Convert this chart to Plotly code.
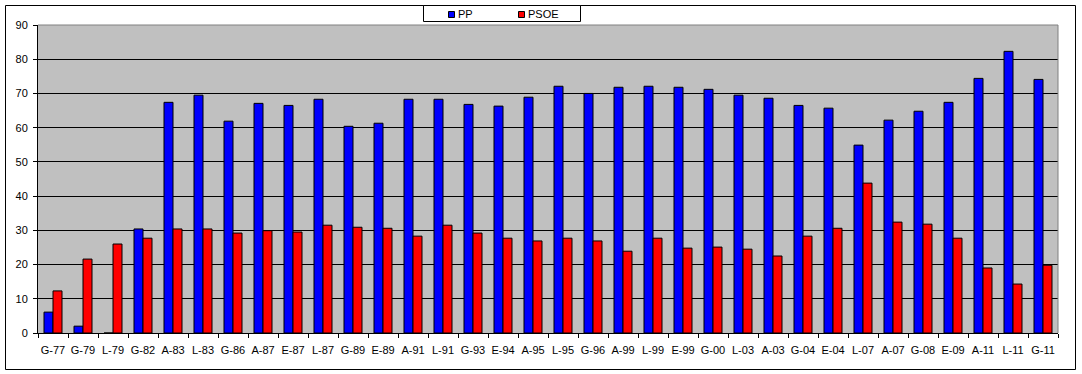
import plotly.graph_objects as go

categories = ["G-77", "G-79", "L-79", "G-82", "A-83", "L-83", "G-86", "A-87", "E-87", "L-87",
              "G-89", "E-89", "A-91", "L-91", "G-93", "E-94", "A-95", "L-95", "G-96", "A-99",
              "L-99", "E-99", "G-00", "L-03", "A-03", "G-04", "E-04", "L-07", "A-07", "G-08",
              "E-09", "A-11", "L-11", "G-11"]
pp = [6.1, 2.0, 0, 30.4, 67.4, 69.5, 61.9, 67.1, 66.5, 68.3,
      60.4, 61.3, 68.3, 68.3, 66.8, 66.3, 68.9, 72.1, 70.0, 71.8,
      72.1, 71.8, 71.2, 69.5, 68.6, 66.5, 65.7, 54.9, 62.2, 64.8,
      67.4, 74.4, 82.3, 74.1]
psoe = [12.3, 21.6, 26.0, 27.7, 30.4, 30.4, 29.2, 29.9, 29.5, 31.5,
        30.9, 30.6, 28.3, 31.5, 29.2, 27.7, 26.9, 27.7, 26.9, 23.9,
        27.7, 24.8, 25.1, 24.5, 22.5, 28.3, 30.6, 43.8, 32.4, 31.8,
        27.7, 19.0, 14.3, 19.8]
series_names = ["PP", "PSOE"]
series_colors = ["#0000FF", "#FF0000"]
y_ticks = [0, 10, 20, 30, 40, 50, 60, 70, 80, 90]

W, H = 1082, 374
L, R, T, B = 38, 24, 25, 41
pw, ph = W - L - R, H - T - B

def px_x(p):
    return (p - L) / pw

def px_y(p):
    return (H - B - p) / ph

FONT = "Liberation Sans, Arial, sans-serif"

fig = go.Figure()
for name, vals, col in zip(series_names, [pp, psoe], series_colors):
    fig.add_trace(go.Bar(x=categories, y=vals, name=name, showlegend=False, hoverinfo="skip",
                         marker=dict(color=col, line=dict(color="black", width=1))))

shapes = [
    # outer frame
    dict(type="rect", xref="paper", yref="paper",
         x0=px_x(5.5), x1=px_x(1075.5), y0=px_y(369.5), y1=px_y(5.5),
         line=dict(color="black", width=1), layer="below"),
    # plot area gray top/right border
    dict(type="line", xref="paper", yref="paper", x0=0, x1=1, y0=1, y1=1,
         line=dict(color="#808080", width=1), layer="above"),
    dict(type="line", xref="paper", yref="paper", x0=1, x1=1, y0=0, y1=1,
         line=dict(color="#808080", width=1), layer="above"),
    # legend box
    dict(type="rect", xref="paper", yref="paper",
         x0=px_x(423.5), x1=px_x(580.5), y0=px_y(21.5), y1=px_y(5.5),
         line=dict(color="black", width=1), fillcolor="white", layer="above"),
]
annotations = []
legend_marker_x = [448.5, 518.5]
for name, col, mx in zip(series_names, series_colors, legend_marker_x):
    shapes.append(dict(type="rect", xref="paper", yref="paper",
                       x0=px_x(mx), x1=px_x(mx + 6), y0=px_y(17.5), y1=px_y(11.5),
                       line=dict(color="black", width=1), fillcolor=col, layer="above"))
    annotations.append(dict(xref="paper", yref="paper", x=px_x(mx + 7.5), y=px_y(14),
                            xanchor="left", yanchor="middle", text=name, showarrow=False,
                            font=dict(family=FONT, size=11, color="black")))

fig.update_layout(
    width=W, height=H,
    margin=dict(l=L, r=R, t=T, b=B, autoexpand=False),
    paper_bgcolor="white",
    plot_bgcolor="#C0C0C0",
    barmode="group", bargap=0.4, bargroupgap=0,
    font=dict(family=FONT, size=11, color="black"),
    showlegend=False,
    hovermode=False,
    shapes=shapes,
    annotations=annotations,
)
fig.update_xaxes(type="category", showline=True, linecolor="black", linewidth=1,
                 ticks="outside", tickson="boundaries", ticklen=4, tickcolor="black",
                 showgrid=False, tickangle=0, tickfont=dict(size=11), automargin=False,
                 ticklabelstandoff=7)
fig.update_yaxes(range=[0, 90], tickvals=y_ticks, showline=True, linecolor="black", linewidth=1,
                 ticks="outside", ticklen=4, tickcolor="black",
                 showgrid=True, gridcolor="black", gridwidth=1, zeroline=False,
                 tickfont=dict(size=11), automargin=False, ticklabelstandoff=3)

fig.write_html("out.html", config={"displayModeBar": False, "staticPlot": True},
               post_script="document.body.style.margin='0';document.body.style.overflow='hidden';")
